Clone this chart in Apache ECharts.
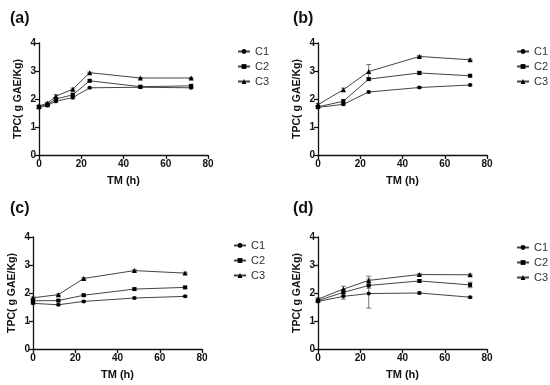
<!DOCTYPE html>
<html><head><meta charset="utf-8">
<script src="https://cdn.jsdelivr.net/npm/echarts@6/dist/echarts.min.js"></script>
<style>html,body{margin:0;padding:0;background:#fff}#c{width:550px;height:385px}</style>
</head><body><div id="c"></div>
<script>
// ---- data ----
var panelLabels = ['(a)', '(b)', '(c)', '(d)'];
var seriesNames = ['C1', 'C2', 'C3'];
var xTicks = [0, 20, 40, 60, 80];
var yTicks = [0, 1, 2, 3, 4];

var timeA = [0, 4, 8, 16, 24, 48, 72];
var a_C1 = [1.70, 1.77, 1.92, 2.05, 2.40, 2.42, 2.40];
var a_C2 = [1.72, 1.80, 2.00, 2.15, 2.65, 2.44, 2.47];
var a_C3 = [1.75, 1.85, 2.10, 2.35, 2.94, 2.75, 2.75];
var a_C1err = [0.05, 0.05, 0.05, 0.05, 0.02, 0.03, 0.03];
var a_C2err = [0.05, 0.05, 0.05, 0.06, 0.03, 0.04, 0.04];
var a_C3err = [0.03, 0.04, 0.05, 0.04, 0.02, 0.02, 0.02];

var timeB = [0, 12, 24, 48, 72];
var b_C1 = [1.70, 1.81, 2.25, 2.41, 2.50];
var b_C2 = [1.72, 1.92, 2.71, 2.93, 2.83];
var b_C3 = [1.80, 2.33, 2.98, 3.52, 3.40];
var b_C1err = [0.03, 0.03, 0.03, 0.03, 0.03];
var b_C2err = [0.04, 0.06, 0.04, 0.06, 0.04];
var b_C3err = [0.04, 0.06, 0.25, 0.03, 0.03];

var timeC = [0, 12, 24, 48, 72];
var c_C1 = [1.63, 1.58, 1.70, 1.82, 1.88];
var c_C2 = [1.72, 1.73, 1.92, 2.14, 2.20];
var c_C3 = [1.83, 1.94, 2.52, 2.80, 2.71];
var c_C1err = [0.03, 0.03, 0.03, 0.03, 0.03];
var c_C2err = [0.04, 0.03, 0.03, 0.03, 0.03];
var c_C3err = [0.03, 0.03, 0.03, 0.03, 0.03];

var timeD = [0, 12, 24, 48, 72];
var d_C1 = [1.70, 1.88, 1.98, 2.00, 1.85];
var d_C2 = [1.73, 2.02, 2.27, 2.43, 2.29];
var d_C3 = [1.78, 2.14, 2.45, 2.66, 2.65];
var d_C1err = [0.04, 0.10, 0.52, 0.04, 0.03];
var d_C2err = [0.04, 0.10, 0.10, 0.05, 0.10];
var d_C3err = [0.05, 0.10, 0.15, 0.03, 0.03];

var panels = [
  {t: timeA, v: [a_C1, a_C2, a_C3], e: [a_C1err, a_C2err, a_C3err]},
  {t: timeB, v: [b_C1, b_C2, b_C3], e: [b_C1err, b_C2err, b_C3err]},
  {t: timeC, v: [c_C1, c_C2, c_C3], e: [c_C1err, c_C2err, c_C3err]},
  {t: timeD, v: [d_C1, d_C2, d_C3], e: [d_C1err, d_C2err, d_C3err]}
];

// ---- layout ----
var gridPos = [
  {left: 39, top: 43, width: 169, height: 112},
  {left: 318, top: 43, width: 169, height: 112},
  {left: 33, top: 237, width: 169, height: 112},
  {left: 318, top: 237, width: 169, height: 112}
];
var titlePos = [{left: 5, top: 6}, {left: 288, top: 6}, {left: 5, top: 196}, {left: 288, top: 196}];
var legendPos = [{left: 232, top: 41}, {left: 511, top: 41}, {left: 228, top: 235}, {left: 511, top: 237}];
var symbols = ['circle', 'rect', 'triangle'];
var symSizes = [4, 4, 5];
var font = 'Liberation Sans, Arial, sans-serif';

var option = {
  animation: false,
  backgroundColor: '#fff',
  title: [], grid: [], xAxis: [], yAxis: [], legend: [], series: []
};

panels.forEach(function (p, i) {
  option.title.push({text: panelLabels[i], left: titlePos[i].left, top: titlePos[i].top,
    textStyle: {fontFamily: font, fontWeight: 'bold', fontSize: 16, color: '#111'}});
  option.grid.push(Object.assign({containLabel: false}, gridPos[i]));
  option.xAxis.push({
    type: 'value', gridIndex: i, min: xTicks[0], max: xTicks[xTicks.length - 1], interval: 20,
    name: 'TM (h)', nameLocation: 'middle', nameGap: 20,
    nameTextStyle: {fontFamily: font, fontWeight: 'bold', fontSize: 11, color: '#111'},
    axisLine: {show: true, onZero: false, lineStyle: {color: '#111', width: 1.3}},
    axisTick: {show: true, length: 4, lineStyle: {color: '#111', width: 1.3}},
    axisLabel: {fontFamily: font, fontWeight: 'bold', fontSize: 10, color: '#111', margin: 4},
    splitLine: {show: false}
  });
  option.yAxis.push({
    type: 'value', gridIndex: i, min: yTicks[0], max: yTicks[yTicks.length - 1], interval: 1,
    name: 'TPC( g GAE/Kg)', nameLocation: 'middle', nameGap: 15, nameRotate: 90,
    nameTextStyle: {fontFamily: font, fontWeight: 'bold', fontSize: 10.5, color: '#111'},
    axisLine: {show: true, onZero: false, lineStyle: {color: '#111', width: 1.3}},
    axisTick: {show: true, length: 4, lineStyle: {color: '#111', width: 1.3}},
    axisLabel: {fontFamily: font, fontWeight: 'bold', fontSize: 10, color: '#111', margin: 3},
    splitLine: {show: false}
  });
  option.legend.push({
    orient: 'vertical', left: legendPos[i].left, top: legendPos[i].top,
    itemWidth: 12, itemHeight: 6, itemGap: 4,
    data: seriesNames,
    textStyle: {fontFamily: font, fontSize: 11, color: '#333', lineHeight: 11}
  });
  p.v.forEach(function (vals, k) {
    var data = p.t.map(function (t, j) { return [t, vals[j]]; });
    option.series.push({
      type: 'line', name: seriesNames[k], xAxisIndex: i, yAxisIndex: i,
      data: data, symbol: symbols[k], symbolSize: symSizes[k], z: 3,
      lineStyle: {color: '#444', width: 1},
      itemStyle: {color: '#000', borderWidth: 0}
    });
    var errs = p.e[k];
    var edata = p.t.map(function (t, j) { return [t, vals[j] - errs[j], vals[j] + errs[j]]; });
    option.series.push({
      type: 'custom', name: seriesNames[k] + ' err', xAxisIndex: i, yAxisIndex: i,
      data: edata, z: 2, silent: true,
      renderItem: function (params, api) {
        var x = api.value(0);
        var lo = api.coord([x, api.value(1)]);
        var hi = api.coord([x, api.value(2)]);
        var w = 2.5;
        var st = {stroke: '#555', lineWidth: 0.8, fill: null};
        return {type: 'group', children: [
          {type: 'line', shape: {x1: lo[0], y1: lo[1], x2: hi[0], y2: hi[1]}, style: st},
          {type: 'line', shape: {x1: hi[0] - w, y1: hi[1], x2: hi[0] + w, y2: hi[1]}, style: st},
          {type: 'line', shape: {x1: lo[0] - w, y1: lo[1], x2: lo[0] + w, y2: lo[1]}, style: st}
        ]};
      }
    });
  });
});

var chart = echarts.init(document.getElementById('c'), null, {renderer: 'canvas'});
chart.setOption(option);
</script></body></html>
